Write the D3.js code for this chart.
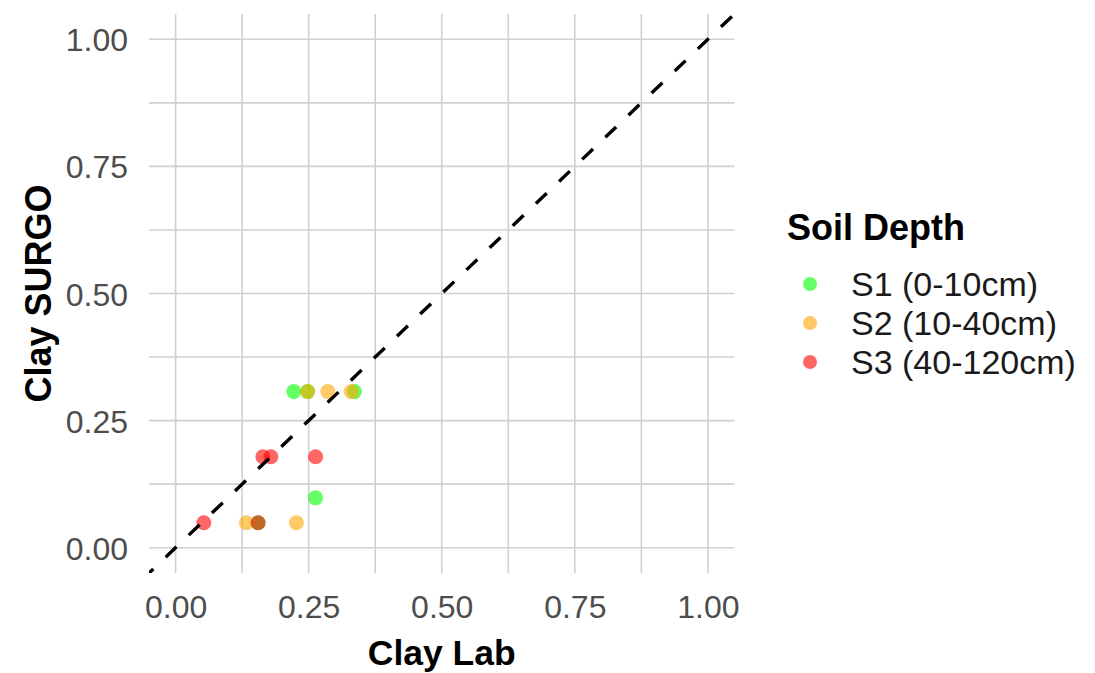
<!DOCTYPE html>
<html><head><meta charset="utf-8">
<script src="https://cdn.jsdelivr.net/npm/d3@7"></script>
<style>
html,body{margin:0;padding:0;background:#fff;}
svg{display:block;font-family:"Liberation Sans",Arial,sans-serif;}
</style></head>
<body>
<svg id="chart" width="1095" height="673"></svg>
<script>
// Data
const seriesNames = ["S1 (0-10cm)", "S2 (10-40cm)", "S3 (40-120cm)"];
const seriesColors = ["#00ff00", "#ffa500", "#ff0000"];
const s1Lab   = [0.222, 0.248, 0.336, 0.263, 0.155];
const s1Surgo = [0.307, 0.307, 0.307, 0.098, 0.049];
const s2Lab   = [0.248, 0.286, 0.330, 0.133, 0.227];
const s2Surgo = [0.307, 0.307, 0.307, 0.049, 0.049];
const s3Lab   = [0.164, 0.179, 0.263, 0.053, 0.155];
const s3Surgo = [0.179, 0.179, 0.179, 0.049, 0.049];
const tickValues = [0, 0.25, 0.5, 0.75, 1];
const minorValues = [0.125, 0.375, 0.625, 0.875];

(function () {
const svg = d3.select("#chart");
const pL = 149, pR = 734.5, pT = 13.9, pB = 573.1;
const x = d3.scaleLinear().domain([-0.05, 1.05]).range([pL, pR]);
const y = d3.scaleLinear().domain([-0.05, 1.05]).range([pB, pT]);

const grid = svg.append("g");
const gridColor = "#d0d0d0";
[...minorValues, ...tickValues].forEach(v => {
  grid.append("line").attr("x1", x(v)).attr("x2", x(v)).attr("y1", pT).attr("y2", pB)
    .attr("stroke", gridColor).attr("stroke-width", 1.6);
  grid.append("line").attr("y1", y(v)).attr("y2", y(v)).attr("x1", pL).attr("x2", pR)
    .attr("stroke", gridColor).attr("stroke-width", 1.6);
});

const fmt = d3.format(".2f");
const xAxis = svg.append("g").attr("transform", `translate(0,${pB})`)
  .call(d3.axisBottom(x).tickValues(tickValues).tickFormat(fmt).tickSize(0).tickPadding(22));
const yAxis = svg.append("g").attr("transform", `translate(${pL},0)`)
  .call(d3.axisLeft(y).tickValues(tickValues).tickFormat(fmt).tickSize(0).tickPadding(21));
[xAxis, yAxis].forEach(a => {
  a.select(".domain").remove();
  a.selectAll("text").attr("font-size", 32).attr("fill", "#4d4d4d")
    .attr("font-family", "Liberation Sans, Arial, sans-serif");
});
yAxis.selectAll("text").attr("dy", "0.36em");
xAxis.selectAll("text").attr("dy", "0.72em");

const series = [
  {lab: s1Lab, surgo: s1Surgo},
  {lab: s2Lab, surgo: s2Surgo},
  {lab: s3Lab, surgo: s3Surgo}
];
const pts = svg.append("g");
series.forEach((s, i) => {
  pts.selectAll(null).data(s.lab.map((v, j) => [v, s.surgo[j]])).enter()
    .append("circle")
    .attr("cx", d => x(d[0])).attr("cy", d => y(d[1])).attr("r", 7.5)
    .attr("fill", seriesColors[i]).attr("fill-opacity", 0.6);
});

svg.append("defs").append("clipPath").attr("id", "clip")
  .append("rect").attr("x", pL).attr("y", pT).attr("width", pR - pL).attr("height", pB - pT);
svg.append("line").attr("clip-path", "url(#clip)")
  .attr("x1", x(-0.05)).attr("y1", y(-0.05)).attr("x2", x(1.05)).attr("y2", y(1.05))
  .attr("stroke", "#000").attr("stroke-width", 3.4)
  .attr("stroke-dasharray", "15 17").attr("stroke-dashoffset", 9);

svg.append("text").attr("x", (pL + pR) / 2).attr("y", 652).attr("dy", "0.36em")
  .attr("text-anchor", "middle").attr("font-size", 35.5).attr("font-weight", "bold")
  .attr("fill", "#000").text("Clay Lab");
svg.append("text").attr("transform", `translate(38,${(pT + pB) / 2}) rotate(-90)`)
  .attr("dy", "0.36em").attr("text-anchor", "middle").attr("font-size", 36)
  .attr("font-weight", "bold").attr("fill", "#000").text("Clay SURGO");

const lg = svg.append("g");
lg.append("text").attr("x", 787).attr("y", 227).attr("dy", "0.36em")
  .attr("font-size", 36).attr("font-weight", "bold").attr("fill", "#000").text("Soil Depth");
const ly = [284, 323, 362];
seriesNames.forEach((n, i) => {
  lg.append("circle").attr("cx", 810).attr("cy", ly[i]).attr("r", 7)
    .attr("fill", seriesColors[i]).attr("fill-opacity", 0.6);
  lg.append("text").attr("x", 851).attr("y", ly[i]).attr("dy", "0.36em")
    .attr("font-size", 34).attr("fill", "#1a1a1a").text(n);
});
})();
</script>
</body></html>
